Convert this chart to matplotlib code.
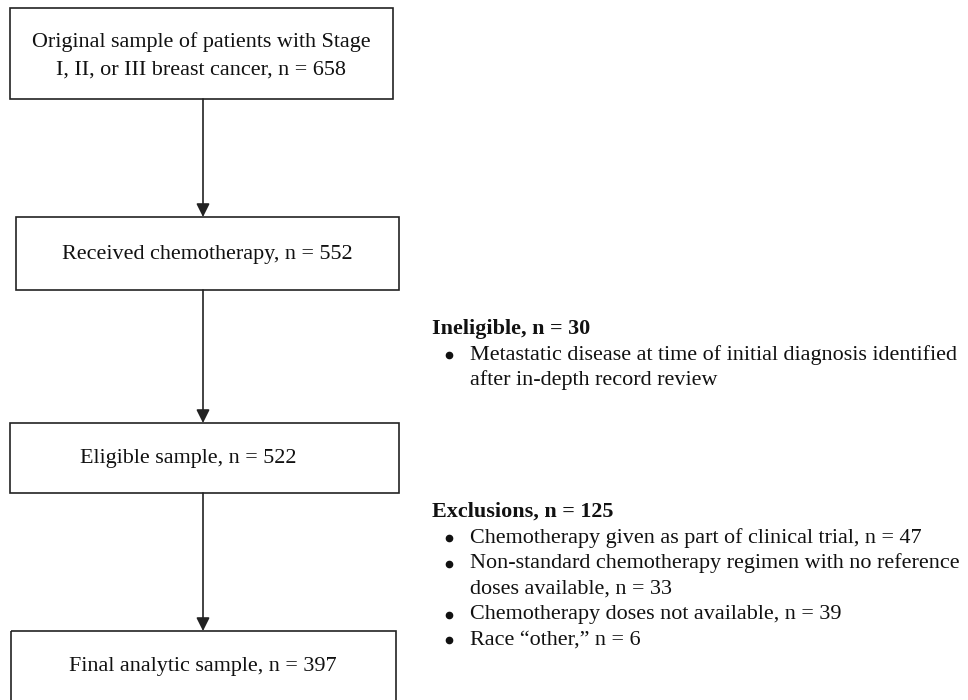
import matplotlib.pyplot as plt
from matplotlib.patches import Rectangle

plt.rcParams['font.family'] = ['Liberation Serif', 'DejaVu Serif']

# flow boxes
box_labels = [
    'Original sample of patients with Stage\nI, II, or III breast cancer, n = 658',
    'Received chemotherapy, n = 552',
    'Eligible sample, n = 522',
    'Final analytic sample, n = 397',
]
# side notes
inelig_title = 'Ineligible, n = 30'
inelig_items = ['Metastatic disease at time of initial diagnosis identified\nafter in-depth record review']
excl_title = 'Exclusions, n = 125'
excl_items = [
    'Chemotherapy given as part of clinical trial, n = 47',
    'Non-standard chemotherapy regimen with no reference\ndoses available, n = 33',
    'Chemotherapy doses not available, n = 39',
    'Race \u201cother,\u201d n = 6',
]

# layout in pixel units (x0, x1, y_top, y_bottom, text x, text y)
boxes = [
    (10, 393, 8, 99, 201, 56),
    (16, 399, 217, 290, 207, 255),
    (10, 399, 423, 493, 188, 459),
    (11, 396, 631, 720, 203, 667),
]
arrow_x = 203

fig = plt.figure(figsize=(9.68, 7.0), dpi=100)
ax = fig.add_axes([0, 0, 1, 1])
ax.set_xlim(0, 968)
ax.set_ylim(700, 0)
ax.axis('off')

ec = '#222222'
tc = '#111111'
fs = 15.9
for (x0, x1, yt, yb, tx, ty), lab in zip(boxes, box_labels):
    ax.add_patch(Rectangle((x0, yt), x1 - x0, yb - yt, fill=False, ec=ec, lw=1.2))
    ax.text(tx, ty, lab, ha='center', va='center', fontsize=fs, color=tc, linespacing=1.6)

for i in range(len(boxes) - 1):
    ax.annotate('', xy=(arrow_x, boxes[i + 1][2]), xytext=(arrow_x, boxes[i][3]),
                arrowprops=dict(arrowstyle='-|>', color=ec, lw=1.2, mutation_scale=20,
                                shrinkA=0, shrinkB=0))


def note(title, items, y0):
    ax.text(432, y0, title, fontsize=fs, fontweight='bold', va='center', color=tc)
    y = y0 + 26
    for it in items:
        ax.plot(449, y, 'o', ms=4.5, color=tc)
        for line in it.split('\n'):
            ax.text(470, y, line, fontsize=fs, va='center', color=tc)
            y += 25.5


note(inelig_title, inelig_items, 329)
note(excl_title, excl_items, 512)

fig.savefig('out.png', dpi=100)
